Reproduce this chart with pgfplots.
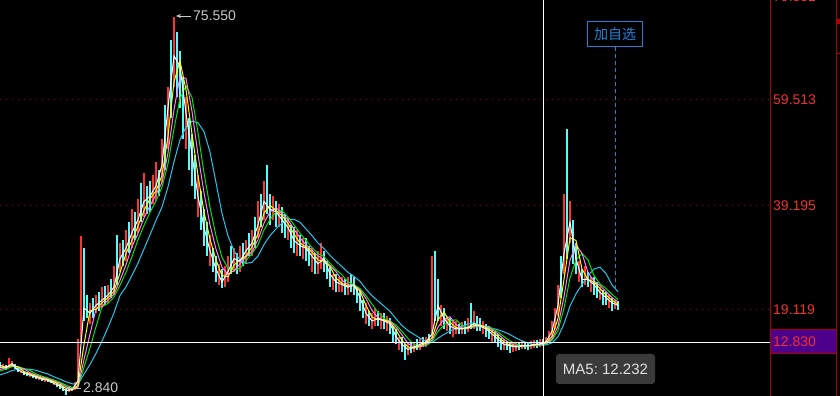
\documentclass[border=0pt]{standalone}
\usepackage{pgfplots}
\pgfplotsset{compat=1.18}
\usepackage{pgfplotstable}
\usetikzlibrary{arrows.meta}
\usepackage{fontspec}
\setmainfont{Liberation Sans}
\newfontfamily\cjk{Noto Sans CJK SC}
\definecolor{upred}{RGB}{255,50,50}
\definecolor{dncyan}{RGB}{84,252,252}
\definecolor{maY}{RGB}{255,255,0}
\definecolor{maP}{RGB}{255,128,255}
\definecolor{maG}{RGB}{0,230,0}
\definecolor{maC}{RGB}{30,200,240}
\definecolor{gridred}{RGB}{140,0,0}
\definecolor{axred}{RGB}{175,0,0}
\definecolor{labred}{RGB}{240,50,50}
\definecolor{boxpurple}{RGB}{76,0,140}
\definecolor{selblue}{RGB}{30,130,220}
\definecolor{tipgray}{RGB}{58,58,58}
\definecolor{anngray}{RGB}{200,200,200}
\newcommand\lab{\fontsize{14bp}{16bp}\selectfont}

\pgfplotstableread{
x lo hi
3 7.8 8.7
9 8.0 9.9
12 8.2 9.3
21 7.0 7.6
30 6.2 7.0
39 5.7 6.3
45 5.3 6.2
54 4.6 5.3
69 3.3 4.1
72 3.5 4.3
75 3.8 5.2
78 4.8 13.5
81 13.0 33.3
90 16.5 20.5
96 18.5 22.0
102 19.5 23.5
108 20.5 24.0
114 22.0 27.5
120 26.5 32.0
126 28.5 34.5
132 31.0 38.5
138 34.0 40.5
144 37.0 45.5
153 39.5 45.0
156 40.0 47.5
162 43.5 52.0
168 50.0 62.0
174 62.0 75.55
186 50.0 60.0
198 37.0 45.0
210 27.5 33.5
219 24.0 28.0
225 23.5 27.5
228 24.5 29.5
234 26.5 31.0
240 26.5 31.5
246 28.0 32.5
252 29.5 34.5
258 33.0 40.0
264 36.5 44.0
273 36.5 41.0
279 35.0 39.5
288 32.5 37.0
297 29.5 34.5
303 29.0 33.0
312 26.5 31.0
318 26.0 30.5
321 27.0 32.0
333 23.0 26.0
339 22.5 25.5
342 22.5 25.5
348 22.0 25.5
366 16.5 20.5
372 15.5 18.5
375 16.0 19.5
381 15.5 18.5
387 15.0 18.0
399 11.5 14.0
408 10.5 13.0
414 11.0 13.0
420 11.5 13.8
426 12.0 14.0
432 13.5 29.5
441 16.0 20.0
447 15.0 18.0
453 14.0 17.0
456 14.5 17.0
462 14.5 16.8
468 14.8 17.5
474 15.5 19.0
483 14.5 17.0
492 13.0 15.5
504 11.5 13.5
513 11.0 12.8
516 11.3 12.8
522 11.6 13.3
531 11.7 13.2
534 11.8 13.3
540 12.0 13.5
546 12.3 14.0
549 12.8 15.0
552 13.8 17.0
555 15.5 19.5
558 18.0 24.0
564 26.0 41.5
570 32.0 40.0
579 24.5 28.5
585 24.0 27.5
591 22.5 25.5
600 21.0 23.5
609 19.5 22.0
615 19.3 21.0
}\up

\pgfplotstableread{
x lo hi
0 7.9 9.2
6 7.5 8.6
15 7.7 8.7
18 7.1 8.0
24 6.6 7.4
27 6.4 7.1
33 6.0 6.6
36 5.8 6.5
42 5.4 6.1
48 5.2 5.9
51 5.0 5.6
57 4.3 5.0
60 4.0 4.8
63 3.6 4.3
66 2.84 3.9
84 17.0 31.0
87 17.5 22.0
93 17.5 21.5
99 19.0 22.5
105 20.0 23.8
111 21.5 25.0
117 24.0 33.5
123 27.5 32.5
129 30.0 36.0
135 32.5 38.0
141 36.0 43.5
147 37.5 43.0
150 38.0 44.0
159 41.0 46.0
165 46.0 58.5
171 56.0 71.0
177 60.0 72.5
180 58.0 69.0
183 52.0 64.0
189 46.0 56.0
192 43.0 53.0
195 40.5 49.0
201 34.5 42.0
204 31.5 38.5
207 29.5 36.0
213 26.5 31.0
216 24.5 29.5
222 23.3 27.0
231 26.0 31.5
237 26.0 30.0
243 27.5 32.0
249 29.5 34.0
255 31.0 37.0
261 35.0 41.5
267 37.5 47.0
270 35.5 41.5
276 35.0 40.0
282 34.0 39.0
285 33.0 37.5
291 31.0 35.5
294 30.0 35.0
300 29.5 33.5
306 28.5 33.0
309 27.5 31.5
315 26.0 30.0
324 26.5 30.5
327 25.0 28.5
330 23.5 27.5
336 22.5 26.0
345 22.0 25.0
351 22.5 26.0
354 22.0 25.5
357 20.5 23.5
360 19.0 23.0
363 17.5 21.0
369 16.0 19.0
378 16.0 19.0
384 15.5 18.5
390 14.5 17.5
393 13.0 16.0
396 12.5 15.5
402 11.0 14.0
405 9.5 12.5
411 10.8 12.8
417 11.5 13.5
423 12.0 14.0
429 12.5 14.5
435 17.0 30.5
438 17.0 25.0
444 15.5 19.5
450 14.5 17.5
459 14.5 16.5
465 14.5 17.0
471 15.5 20.5
477 15.0 18.0
480 15.0 17.5
486 14.0 16.5
489 13.5 16.0
495 12.8 15.0
498 12.0 14.5
501 11.5 13.8
507 11.5 13.2
510 10.8 13.0
519 11.5 13.0
525 11.6 13.0
528 11.5 12.9
537 11.9 13.4
543 12.2 13.6
561 21.5 29.5
567 29.0 54.0
573 28.0 36.5
576 26.0 32.0
582 23.5 27.0
588 23.5 26.5
594 22.0 25.5
597 21.5 24.5
603 20.0 23.0
606 20.0 22.5
612 19.0 21.5
618 19.2 20.8
}\down

\pgfplotstableread{
x m5 m10 m20 m30 m60
0 8.5 8.0 7.67 7.38 6.64
6 8.0 8.25 8.0 7.75 7.0
12 8.8 8.4 8.43 8.2 7.47
18 7.6 8.2 8.13 8.23 7.7
24 7.0 7.3 7.8 7.85 7.77
30 6.6 6.8 7.07 7.5 7.71
36 6.2 6.4 6.6 6.85 7.53
42 5.8 6.0 6.2 6.4 7.14
48 5.6 5.7 5.87 6.05 6.8
54 5.0 5.3 5.47 5.65 6.26
60 4.5 4.75 5.03 5.23 5.81
66 3.6 4.05 4.37 4.68 5.33
72 3.8 3.7 3.97 4.23 4.93
78 5.5 4.65 4.3 4.35 4.83
84 19.5 12.5 9.6 8.1 6.79
90 18.5 19.0 14.5 11.83 8.63
96 20.0 19.25 19.33 15.88 10.77
102 21.0 20.5 19.83 19.75 13.13
108 22.0 21.5 21.0 20.38 15.76
114 23.5 22.75 22.17 21.63 18.57
120 29.0 26.25 24.83 23.88 21.93
126 31.0 30.0 27.83 26.38 23.57
132 34.0 32.5 31.33 29.38 25.79
138 36.5 35.25 33.83 32.63 28.14
144 40.0 38.25 36.83 35.38 30.86
150 41.0 40.5 39.17 37.88 33.57
156 43.0 42.0 41.33 40.13 36.36
162 47.0 45.0 43.67 42.75 38.93
168 58.0 52.5 49.33 47.25 42.79
174 68.0 63.0 57.67 54.0 47.64
180 66.0 67.0 64.0 59.75 51.86
186 57.0 61.5 63.67 62.25 54.29
192 49.0 53.0 57.33 60.0 55.43
198 41.0 45.0 49.0 53.25 55.14
204 35.0 38.0 41.67 45.5 53.43
210 30.5 32.75 35.5 38.88 49.5
216 27.0 28.75 30.83 33.38 43.64
222 24.5 25.75 27.33 29.25 37.71
228 26.5 25.5 26.0 27.13 33.36
234 29.0 27.75 26.67 26.75 30.5
240 28.5 28.75 28.0 27.13 28.71
246 30.5 29.5 29.33 28.63 28.07
252 32.0 31.25 30.33 30.0 28.29
258 35.5 33.75 32.67 31.63 29.5
264 40.0 37.75 35.83 34.5 31.71
270 38.5 39.25 38.0 36.5 33.43
276 38.0 38.25 38.83 38.0 34.71
282 36.5 37.25 37.67 38.25 35.86
288 35.0 35.75 36.5 37.0 36.5
294 32.5 33.75 34.67 35.5 36.57
300 31.5 32.0 33.0 33.88 36.0
306 31.0 31.25 31.67 32.5 34.71
312 29.5 30.25 30.67 31.13 33.43
318 28.0 28.75 29.5 30.0 32.0
324 29.0 28.5 28.83 29.38 30.93
330 26.0 27.5 27.67 28.13 29.64
336 24.5 25.25 26.5 26.88 28.5
342 24.0 24.25 24.83 25.88 27.43
348 23.5 23.75 24.0 24.5 26.36
354 24.0 23.75 23.83 24.0 25.57
360 21.5 22.75 23.0 23.25 24.64
366 18.5 20.0 21.33 21.88 23.14
372 17.0 17.75 19.0 20.25 21.86
378 17.5 17.25 17.67 18.63 20.86
384 17.0 17.25 17.17 17.5 19.86
390 16.5 16.75 17.0 17.0 18.86
396 14.0 15.25 15.83 16.25 17.43
402 12.5 13.25 14.33 15.0 16.14
408 11.5 12.0 12.67 13.63 15.14
414 12.0 11.75 12.0 12.5 14.43
420 12.5 12.25 12.0 12.13 13.71
426 13.0 12.75 12.5 12.25 13.14
432 14.5 13.75 13.33 13.0 12.86
438 20.0 17.25 15.83 15.0 13.71
444 17.5 18.75 17.33 16.25 14.43
450 16.0 16.75 17.83 17.0 15.07
456 15.5 15.75 16.33 17.25 15.57
462 15.5 15.5 15.67 16.13 16.0
468 15.8 15.65 15.6 15.7 16.4
474 16.5 16.15 15.93 15.83 16.69
480 16.0 16.25 16.1 15.95 16.11
486 15.5 15.75 16.0 15.95 15.83
492 14.5 15.0 15.33 15.63 15.61
498 13.5 14.0 14.5 14.88 15.33
504 12.5 13.0 13.5 14.0 14.9
510 12.2 12.35 12.73 13.18 14.39
516 12.0 12.1 12.23 12.55 13.74
522 12.3 12.15 12.17 12.25 13.21
528 12.2 12.25 12.17 12.18 12.74
534 12.5 12.35 12.33 12.25 12.46
540 12.6 12.55 12.43 12.4 12.33
546 13.0 12.8 12.7 12.58 12.4
552 15.0 14.0 13.53 13.28 12.8
558 20.0 17.5 16.0 15.15 13.94
564 30.0 25.0 21.67 19.5 16.47
570 36.0 33.0 28.67 25.25 19.87
576 29.0 32.5 31.67 28.75 22.23
582 25.0 27.0 30.0 30.0 24.0
588 25.0 25.0 26.33 28.75 25.71
594 24.0 24.5 24.67 25.75 27.0
600 22.5 23.25 23.83 24.13 27.36
606 21.5 22.0 22.67 23.25 26.14
612 20.5 21.0 21.5 22.13 23.93
618 20.0 20.25 20.67 21.13 22.64
}\ma

\begin{document}
\begin{tikzpicture}
\useasboundingbox (0,0) rectangle (840bp,396bp);
\fill[black] (0,0) rectangle (840bp,396bp);
\begin{axis}[at={(0,0)}, anchor=south west, scale only axis,
  width=770bp, height=396bp, xmin=0, xmax=770, ymin=2.577, ymax=78.747,
  hide axis, clip=true]
\draw[gridred, line width=1bp, dash pattern=on 1bp off 5bp] (axis cs:0,59.513) -- (axis cs:770,59.513);
\draw[gridred, line width=1bp, dash pattern=on 1bp off 5bp] (axis cs:0,39.195) -- (axis cs:770,39.195);
\draw[gridred, line width=1bp, dash pattern=on 1bp off 5bp] (axis cs:0,19.119) -- (axis cs:770,19.119);
\addplot[forget plot, draw=none, mark=none,
  error bars/.cd, y dir=plus, y explicit, error mark=none,
  error bar style={draw=dncyan, line width=1.6bp, solid}]
  table[x=x, y=lo, y error plus expr=\thisrow{hi}-\thisrow{lo}] {\down};
\addplot[forget plot, draw=none, mark=none,
  error bars/.cd, y dir=plus, y explicit, error mark=none,
  error bar style={draw=upred, line width=1.6bp, solid}]
  table[x=x, y=lo, y error plus expr=\thisrow{hi}-\thisrow{lo}] {\up};
\addplot[maC, line width=1bp, mark=none] table[x=x, y=m60] {\ma};
\addplot[maG, line width=1bp, mark=none] table[x=x, y=m30] {\ma};
\addplot[maP, line width=1bp, mark=none] table[x=x, y=m20] {\ma};
\addplot[maY, line width=1bp, mark=none] table[x=x, y=m10] {\ma};
\addplot[white, line width=1bp, mark=none] table[x=x, y=m5] {\ma};
\draw[white, line width=1bp] (axis cs:0,12.83) -- (axis cs:770,12.83);
\end{axis}
\begin{scope}[x=1bp, y=1bp]
% crosshair vertical
\draw[white, line width=1bp] (543.5,0) -- (543.5,396);
% right panel
\fill[boxpurple] (771,42) rectangle (836,66);
\draw[axred, line width=1bp] (771,42) -- (836,42);
\draw[axred, line width=1bp] (771,66) -- (836,66);
\draw[axred, line width=1.2bp] (770.5,0) -- (770.5,396);
\draw[axred, line width=1.2bp] (836.5,0) -- (836.5,396);
\fill[axred] (836,372) rectangle (840,377);
\draw[axred, line width=1bp] (836,342) -- (840,342);
\node[anchor=west, inner sep=0pt, text=labred] at (773,399) {\lab 79.831};
\node[anchor=west, inner sep=0pt, text=labred] at (773,296) {\lab 59.513};
\node[anchor=west, inner sep=0pt, text=labred] at (773,190.4) {\lab 39.195};
\node[anchor=west, inner sep=0pt, text=labred] at (773,86) {\lab 19.119};
\node[anchor=west, inner sep=0pt, text=labred] at (773,54) {\lab 12.830};
% tooltip
\fill[tipgray, rounded corners=3bp] (556,12) rectangle (655,42);
\node[text=white!88!black, inner sep=0pt] at (605.5,27) {\fontsize{15bp}{17bp}\selectfont MA5:\ 12.232};
% add to watchlist
\draw[selblue, dash pattern=on 4bp off 3bp, line width=1bp] (615,349) -- (615,106);
\draw[selblue, line width=1.2bp] (587.5,349.5) rectangle (642.5,374.5);
\node[text=selblue, inner sep=0pt] at (615,362) {\cjk\fontsize{14bp}{16bp}\selectfont 加自选};
% high / low annotations
\draw[anngray, line width=0.8bp, -{Stealth[length=5bp,width=4bp]}] (191,380) -- (176,380);
\node[anchor=west, inner sep=0pt, text=anngray] at (193,380) {\lab 75.550};
\draw[anngray, line width=0.8bp, -{Stealth[length=5bp,width=4bp]}] (81,8) -- (66,8);
\node[anchor=west, inner sep=0pt, text=anngray] at (83,8) {\lab 2.840};
\end{scope}
\end{tikzpicture}
\end{document}
